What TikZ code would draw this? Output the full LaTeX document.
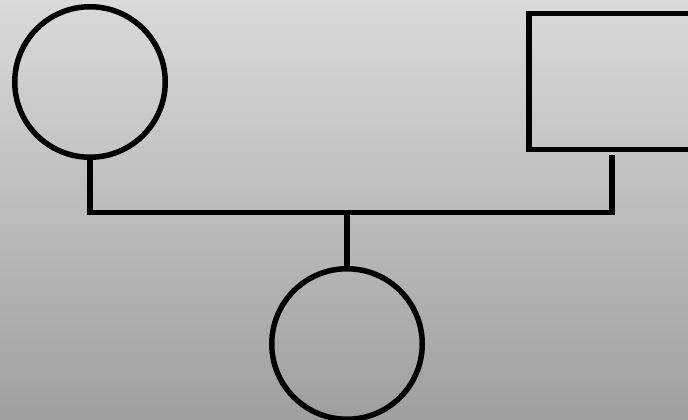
\documentclass[tikz,border=0pt]{standalone}
\begin{document}
\begin{tikzpicture}[x=1pt,y=1pt,
  person/.style={draw=black,line width=5.5pt,inner sep=0pt,outer sep=0pt},
  female/.style={person,circle,minimum size=150.5pt},
  male/.style={person,rectangle,minimum width=166pt,minimum height=136pt},
  link/.style={draw=black,line width=5.5pt}]
\definecolor{bgtop}{HTML}{DADADA}
\definecolor{bgbot}{HTML}{9F9F9F}
\useasboundingbox (0,0) rectangle (688,420);
\clip (0,0) rectangle (688,420);
\shade[top color=bgtop,bottom color=bgbot] (0,0) rectangle (688,420);
\node[female] (mother) at (90,338) {};
\node[male] (father) at (612,338.5) {};
\node[female] (child) at (347,76) {};
\coordinate (j) at (347,207.5);
\draw[link,shorten >=5.5pt] (mother.south) |- (j) -| (father.south);
\draw[link] (j) -- (child.north);
\end{tikzpicture}
\end{document}
